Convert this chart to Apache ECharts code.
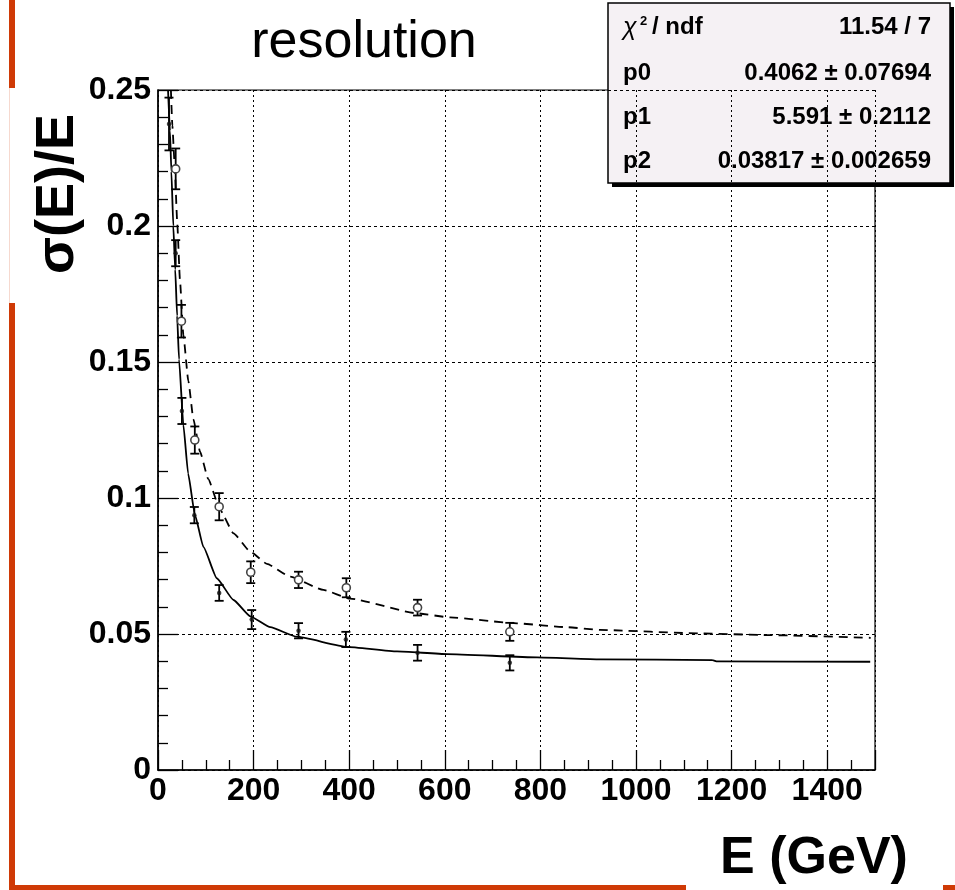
<!DOCTYPE html>
<html>
<head>
<meta charset="utf-8">
<script src="https://cdn.jsdelivr.net/npm/echarts@6/dist/echarts.min.js"></script>
<style>
html,body{margin:0;padding:0;background:#fff;}
#c{width:955px;height:890px;}
</style>
</head>
<body>
<div id="c"></div>
<script>
// ---- data ----
const xTicks = [0, 200, 400, 600, 800, 1000, 1200, 1400];
const yTicks = [0, 0.05, 0.1, 0.15, 0.2, 0.25];

// solid series (filled dots)
const solidE   = [23, 37, 50, 76, 128, 196, 294, 393, 543, 736];
const solidV   = [0.2375, 0.190, 0.132, 0.0937, 0.0651, 0.0553, 0.0512, 0.0480, 0.0431, 0.0394];
const solidErr = [0.0097, 0.0048, 0.0048, 0.0030, 0.0029, 0.0035, 0.0028, 0.0028, 0.0029, 0.0028];

// dashed series (open circles)
const dashE   = [37, 49, 77, 128, 194, 294, 394, 543, 736];
const dashV   = [0.221, 0.165, 0.1213, 0.0968, 0.0727, 0.0699, 0.0670, 0.0597, 0.0508];
const dashErr = [0.0075, 0.0060, 0.0050, 0.0050, 0.0040, 0.0030, 0.0035, 0.0029, 0.0033];

// fitted curves
const solidCurveE = [21, 25, 28, 32, 36, 40, 44, 53, 63, 77, 95, 123, 158, 193, 235, 290, 395, 500, 605, 793, 925, 1160, 1170, 1490];
const solidCurveV = [0.25, 0.235, 0.22, 0.20, 0.184, 0.167, 0.151, 0.127, 0.109, 0.094, 0.082, 0.0705, 0.0625, 0.0565, 0.0525, 0.049, 0.0453, 0.0436, 0.0426, 0.0414, 0.0407, 0.0404, 0.0399, 0.0398];
const dashCurveE = [27, 30, 35, 40, 46, 53, 63.5, 74, 88, 105, 130, 158, 193, 228, 276, 346, 402, 542, 611, 751, 856, 925, 1135, 1275, 1491];
const dashCurveV = [0.25, 0.237, 0.222, 0.202, 0.180, 0.160, 0.143, 0.129, 0.117, 0.107, 0.0956, 0.087, 0.0803, 0.0758, 0.0711, 0.0662, 0.0630, 0.0576, 0.0561, 0.0539, 0.0525, 0.0515, 0.0502, 0.0496, 0.0486];

const titleText = 'resolution';
const xTitle = 'E (GeV)';
const yTitle = 'σ(E)/E';
const statRows = [
  ['p0', '0.4062 ± 0.07694'],
  ['p1', '5.591 ± 0.2112'],
  ['p2', '0.03817 ± 0.002659']
];
const chiVal = '11.54 / 7';

// ---- build ----
const zip = (a, b, c) => a.map((v, i) => c ? [v, b[i], c[i]] : [v, b[i]]);
const FONT = 'Liberation Sans, Arial, sans-serif';
const ORANGE = '#cf3a06';

function errRender(params, api) {
  const x = api.value(0), y = api.value(1), e = api.value(2);
  const t = api.coord([x, y + e]);
  const b = api.coord([x, y - e]);
  const w = 4.5;
  const st = {stroke: '#000', lineWidth: 1.8};
  return {
    type: 'group',
    children: [
      {type: 'line', shape: {x1: t[0], y1: t[1], x2: b[0], y2: b[1]}, style: st},
      {type: 'line', shape: {x1: t[0] - w, y1: t[1], x2: t[0] + w, y2: t[1]}, style: st},
      {type: 'line', shape: {x1: b[0] - w, y1: b[1], x2: b[0] + w, y2: b[1]}, style: st}
    ]
  };
}

const chart = echarts.init(document.getElementById('c'), null, {renderer: 'canvas'});

const statsChildren = [
  {type: 'rect', shape: {x: 612, y: 7, width: 342, height: 180}, style: {fill: '#000'}},
  {type: 'rect', shape: {x: 608, y: 3, width: 342, height: 180}, style: {fill: '#f5f1f4', stroke: '#000', lineWidth: 1.5}},
  {type: 'text', x: 623, y: 28, style: {text: 'χ', font: 'italic 25px ' + FONT, fill: '#000', textAlign: 'left', textVerticalAlign: 'middle'}},
  {type: 'text', x: 640, y: 21, style: {text: '2', font: 'bold 13px ' + FONT, fill: '#000', textAlign: 'left', textVerticalAlign: 'middle'}},
  {type: 'text', x: 652, y: 27, style: {text: '/ ndf', font: 'bold 24px ' + FONT, fill: '#000', textAlign: 'left', textVerticalAlign: 'middle'}},
  {type: 'text', x: 931, y: 27, style: {text: chiVal, font: 'bold 24px ' + FONT, fill: '#000', textAlign: 'right', textVerticalAlign: 'middle'}}
];
const rowY = [73, 117, 161];
statRows.forEach((r, i) => {
  statsChildren.push({type: 'text', x: 623, y: rowY[i], style: {text: r[0], font: 'bold 24px ' + FONT, fill: '#000', textAlign: 'left', textVerticalAlign: 'middle'}});
  statsChildren.push({type: 'text', x: 931, y: rowY[i], style: {text: r[1], font: 'bold 24px ' + FONT, fill: '#000', textAlign: 'right', textVerticalAlign: 'middle'}});
});

const option = {
  animation: false,
  backgroundColor: '#fff',
  grid: {left: 158, right: 80, top: 90, bottom: 120, show: true, borderColor: '#000', borderWidth: 1.2, backgroundColor: 'transparent', containLabel: false, outerBoundsMode: 'none'},
  xAxis: {
    type: 'value', min: 0, max: 1500, interval: 200,
    axisLine: {show: true, onZero: false, lineStyle: {color: '#000', width: 1.5}},
    axisTick: {show: true, inside: true, length: 20, lineStyle: {color: '#000', width: 1.3}},
    minorTick: {show: true, splitNumber: 4, length: 10, lineStyle: {color: '#000', width: 1.3}},
    splitLine: {show: true, lineStyle: {color: '#000', type: [2, 3], width: 1}},
    axisLabel: {fontSize: 32, fontWeight: 'bold', fontFamily: FONT, color: '#000', margin: 5, showMaxLabel: false,
      formatter: v => (xTicks.indexOf(v) >= 0 ? String(v) : '')}
  },
  yAxis: {
    type: 'value', min: 0, max: 0.25, interval: 0.05,
    axisLine: {show: true, onZero: false, lineStyle: {color: '#000', width: 1.5}},
    axisTick: {show: true, inside: true, length: 20, lineStyle: {color: '#000', width: 1.3}},
    minorTick: {show: true, splitNumber: 5, length: 10, lineStyle: {color: '#000', width: 1.3}},
    splitLine: {show: true, lineStyle: {color: '#000', type: [3, 3], width: 1}},
    axisLabel: {fontSize: 32, fontWeight: 'bold', fontFamily: FONT, color: '#000', margin: 7,
      formatter: v => {
        const k = yTicks.findIndex(t => Math.abs(t - v) < 1e-9);
        return k >= 0 ? String(yTicks[k]) : '';
      }}
  },
  series: [
    {type: 'line', data: zip(solidCurveE, solidCurveV), showSymbol: false, smooth: 0.15, smoothMonotone: 'x',
      lineStyle: {color: '#000', width: 1.8}, z: 3, silent: true},
    {type: 'line', data: zip(dashCurveE, dashCurveV), showSymbol: false, smooth: 0.15, smoothMonotone: 'x',
      lineStyle: {color: '#000', width: 1.8, type: [9, 6]}, z: 3, silent: true},
    {type: 'custom', renderItem: errRender, data: zip(solidE, solidV, solidErr), z: 4, silent: true},
    {type: 'custom', renderItem: errRender, data: zip(dashE, dashV, dashErr), z: 4, silent: true},
    {type: 'scatter', data: zip(solidE, solidV), symbol: 'circle', symbolSize: 4.5,
      itemStyle: {color: '#111'}, z: 5, silent: true},
    {type: 'scatter', data: zip(dashE, dashV), symbol: 'circle', symbolSize: 8,
      itemStyle: {color: '#ffffff', borderColor: '#444', borderWidth: 1.6, opacity: 1}, z: 6, silent: true}
  ],
  graphic: [
    // orange page frame
    {type: 'rect', shape: {x: 9, y: 0, width: 6, height: 88}, style: {fill: ORANGE}},
    {type: 'rect', shape: {x: 9, y: 88, width: 1, height: 215}, style: {fill: '#f6d9cf'}},
    {type: 'rect', shape: {x: 9, y: 303, width: 6, height: 587}, style: {fill: ORANGE}},
    {type: 'rect', shape: {x: 9, y: 885, width: 677, height: 5}, style: {fill: ORANGE}},
    {type: 'rect', shape: {x: 943, y: 885, width: 12, height: 5}, style: {fill: ORANGE}},
    // titles
    {type: 'text', x: 364, y: 43, style: {text: titleText, font: 'normal 52px ' + FONT, fill: '#000', textAlign: 'center', textVerticalAlign: 'middle'}},
    {type: 'text', x: 814, y: 859, style: {text: xTitle, font: 'bold 52px ' + FONT, fill: '#000', textAlign: 'center', textVerticalAlign: 'middle'}},
    {type: 'text', x: 58, y: 194, rotation: Math.PI / 2, style: {text: yTitle, font: 'bold 54px ' + FONT, fill: '#000', textAlign: 'center', textVerticalAlign: 'middle'}},
    {type: 'group', z: 100, children: statsChildren}
  ]
};
chart.setOption(option);
</script>
</body>
</html>
